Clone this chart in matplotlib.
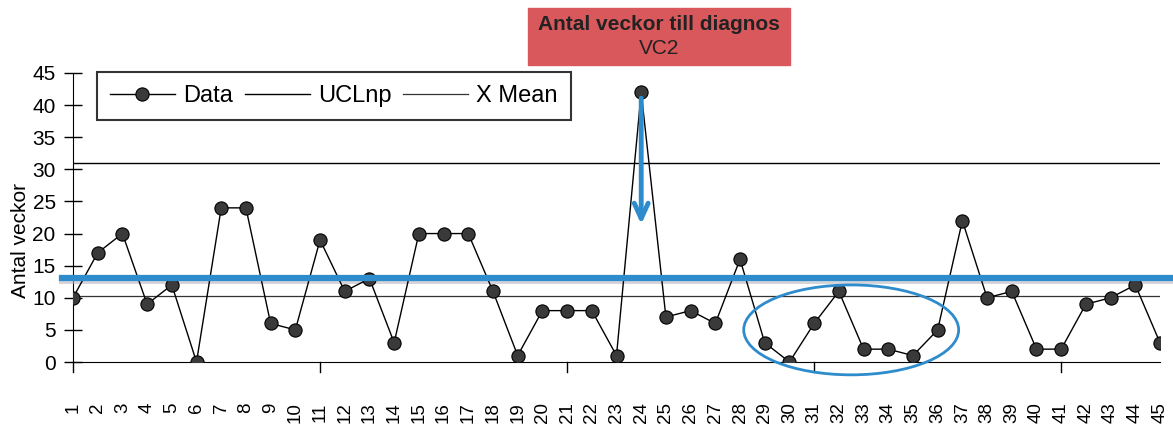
import matplotlib
matplotlib.use("Agg")
import matplotlib.pyplot as plt
from matplotlib.patches import Ellipse

plt.rcParams["font.family"] = ["Liberation Sans", "DejaVu Sans"]

# data
weeks = list(range(1, 46))
data = [10, 17, 20, 9, 12, 0, 24, 24, 6, 5,
        19, 11, 13, 3, 20, 20, 20, 11, 1, 8,
        8, 8, 1, 42, 7, 8, 6, 16, 3, 0,
        6, 11, 2, 2, 1, 5, 22, 10, 11, 2,
        2, 9, 10, 12, 3]
ucl = 31
x_mean = 10.2
marked_level = 13.1  # hand drawn blue line
arrow_x, arrow_top, arrow_bottom = 24, 41.5, 21

fig = plt.figure(figsize=(11.73, 4.32), dpi=100)
ax = fig.add_axes([73 / 1173, 1 - 362 / 432, (1160 - 73) / 1173, (362 - 73) / 432])

ax.plot(weeks, data, color="black", lw=1, marker="o", ms=9.5,
        mfc="#3a3a3a", mec="black", mew=0.8, label="Data", zorder=4)
ax.axhline(ucl, color="black", lw=1, label="UCLnp", zorder=2)
ax.axhline(x_mean, color="#333333", lw=0.9, label="X Mean", zorder=2)

# annotations (blue marker pen)
ax.plot([0.55, 46.0], [marked_level - 0.35, marked_level - 0.35], color="#b8b8c0",
        lw=5, alpha=0.6, clip_on=False, zorder=3)
ax.plot([0.55, 46.0], [marked_level, marked_level], color="#2e8bcc",
        lw=4.5, clip_on=False, zorder=5)
ax.annotate("", xy=(arrow_x, arrow_bottom), xytext=(arrow_x, arrow_top),
            arrowprops=dict(arrowstyle="->,head_length=1.1,head_width=0.5",
                            color="#2e8bcc", lw=3.5), zorder=6)
ax.add_patch(Ellipse((32.5, 5.0), 8.7, 14, fill=False, ec="#2e8bcc", lw=2,
                     clip_on=False, zorder=6))

ax.set_xlim(1, 45)
ax.set_ylim(0, 45)
ax.set_yticks(range(0, 46, 5))
ax.set_xticks(weeks)
ax.set_xticklabels([str(w) for w in weeks], rotation=90, fontsize=13.5)
ax.tick_params(axis="x", length=0, pad=29)
for x in [1, 11, 21, 31, 41]:
    ax.plot([x, x], [0, -1.6], color="black", lw=1, clip_on=False)
ax.tick_params(axis="y", labelsize=15, direction="inout", length=13, width=1,
               pad=6)
for s in ["top", "right"]:
    ax.spines[s].set_visible(False)
ax.set_ylabel("Antal veckor", fontsize=15)
ax.yaxis.set_label_coords(-0.04, 0.419)

leg = ax.legend(loc="upper left", bbox_to_anchor=(0.022, 1.0035), ncol=3,
                fontsize=17, frameon=True, fancybox=False, handlelength=2.75,
                handletextpad=0.35, columnspacing=0.5, borderpad=0.55,
                borderaxespad=0)
leg.get_frame().set_edgecolor("black")
leg.get_frame().set_linewidth(1.5)

fig.patches.append(plt.Rectangle((528 / 1173, 1 - 65 / 432), 262 / 1173, 57 / 432,
                                 transform=fig.transFigure, color="#d9585c",
                                 zorder=0))
fig.text(659 / 1173, 1 - 25 / 432, "Antal veckor till diagnos", ha="center",
         va="center", fontsize=15, fontweight="bold", color="#222222")
fig.text(659 / 1173, 1 - 48 / 432, "VC2", ha="center", va="center",
         fontsize=15, color="#222222")

fig.savefig("out.png", dpi=100)
